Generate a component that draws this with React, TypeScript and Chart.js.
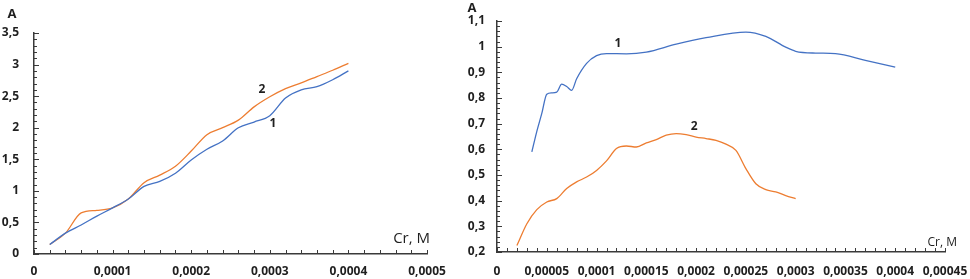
import React, { useEffect, useRef } from "react";
import { Chart, registerables } from "chart.js";

Chart.register(...registerables);

// ---------- Data ----------
const leftX = [0.00002, 0.00004, 0.00006, 0.00008, 0.0001, 0.00012, 0.00014, 0.00016, 0.00018, 0.0002, 0.00022, 0.00024, 0.00026, 0.00028, 0.0003, 0.00032, 0.00034, 0.00036, 0.00038, 0.0004];
const leftSeries1 = [0.15, 0.33, 0.46, 0.6, 0.73, 0.87, 1.07, 1.15, 1.28, 1.49, 1.66, 1.79, 2.0, 2.09, 2.19, 2.47, 2.6, 2.65, 2.76, 2.9];
const leftSeries2 = [0.15, 0.33, 0.65, 0.69, 0.73, 0.87, 1.13, 1.25, 1.39, 1.63, 1.89, 2.0, 2.12, 2.33, 2.49, 2.62, 2.71, 2.81, 2.91, 3.02];

const rightX1 = [0.000035, 0.00004, 0.000045, 0.00005, 0.000055, 0.00006, 0.000065, 0.00007, 0.000075, 0.00008, 0.00009, 0.0001, 0.00011, 0.00013, 0.00015, 0.00018, 0.00021, 0.00025, 0.00027, 0.00029, 0.0003, 0.00032, 0.00034, 0.00037, 0.0004];
const rightSeries1 = [0.59, 0.67, 0.74, 0.815, 0.82, 0.823, 0.854, 0.845, 0.83, 0.875, 0.935, 0.965, 0.973, 0.972, 0.979, 1.01, 1.035, 1.057, 1.04, 0.998, 0.982, 0.975, 0.973, 0.947, 0.92];
const rightX2 = [0.00002, 0.00003, 0.00004, 0.00005, 0.00006, 0.00007, 0.00008, 0.00009, 0.0001, 0.00011, 0.00012, 0.00013, 0.00014, 0.00015, 0.00016, 0.00017, 0.00018, 0.00019, 0.0002, 0.00021, 0.00022, 0.00023, 0.00024, 0.00025, 0.00026, 0.00027, 0.00028, 0.00029, 0.0003];
const rightSeries2 = [0.225, 0.31, 0.365, 0.395, 0.408, 0.447, 0.473, 0.492, 0.518, 0.555, 0.603, 0.613, 0.609, 0.625, 0.638, 0.655, 0.661, 0.657, 0.648, 0.642, 0.635, 0.62, 0.596, 0.525, 0.466, 0.443, 0.434, 0.42, 0.408];

// curve number labels: [x, y, text]
const leftCurveLabels: [number, number, string][] = [[0.00029, 2.6, "2"], [0.000304, 2.07, "1"]];
const rightCurveLabels: [number, number, string][] = [[0.0001215, 1.013, "1"], [0.000198, 0.69, "2"]];

const yTitle = "A";
const xTitle = "Cr, M";

// ---------- Styles ----------
const BLUE = "#4472C4";
const ORANGE = "#ED7D31";
const AXIS = "#3a3a3a";
const TEXT = "#1f1f1f";
const FONT = "'Open Sans', Arial, sans-serif";

const isMultiple = (v: number, step: number) => Math.abs(v / step - Math.round(v / step)) < 1e-6;
const fmt = (v: number) => String(Number(v.toFixed(8))).replace(".", ",");

function makePlugin(labels: [number, number, string][], xMajor: number, yMajor: number, titleCfg: any) {
  return {
    id: "decor",
    afterDraw(chart: any) {
      const ctx = chart.ctx;
      const { left, right, top, bottom } = chart.chartArea;
      const xs = chart.scales.x;
      const ys = chart.scales.y;
      ctx.save();
      ctx.strokeStyle = AXIS;
      ctx.lineWidth = 1;
      ctx.beginPath();
      xs.ticks.forEach((t: any) => {
        const px = Math.round(xs.getPixelForValue(t.value)) + 0.5;
        ctx.moveTo(px, bottom);
        ctx.lineTo(px, bottom - 4);
      });
      ys.ticks.forEach((t: any) => {
        const py = Math.round(ys.getPixelForValue(t.value)) + 0.5;
        const len = isMultiple(t.value, yMajor) ? 5 : 3;
        ctx.moveTo(left, py);
        ctx.lineTo(left + len, py);
      });
      ctx.stroke();

      ctx.fillStyle = TEXT;
      ctx.textAlign = "center";
      ctx.textBaseline = "middle";
      ctx.font = `bold 12px ${FONT}`;
      labels.forEach(([x, y, s]) => {
        ctx.fillText(s, xs.getPixelForValue(x), ys.getPixelForValue(y));
      });

      ctx.font = `bold 13px ${FONT}`;
      ctx.fillText(yTitle, left + titleCfg.ax, top + titleCfg.ay);
      ctx.textAlign = "right";
      ctx.font = `${titleCfg.xs}px ${FONT}`;
      ctx.fillText(xTitle, right + titleCfg.cx, bottom + titleCfg.cy);
      ctx.restore();
    },
  };
}

function buildConfig(opts: any) {
  const datasets = opts.series.map((s: any) => ({
    data: s.x.map((x: number, i: number) => ({ x, y: s.y[i] })),
    borderColor: s.color,
    borderWidth: 1.3,
    pointRadius: 0,
    fill: false,
    cubicInterpolationMode: "monotone",
    tension: 0.4,
  }));
  return {
    type: "line",
    data: { datasets },
    plugins: [makePlugin(opts.labels, opts.xMajor, opts.yMajor, opts.title)],
    options: {
      responsive: false,
      animation: false,
      events: [],
      layout: { padding: opts.padding },
      plugins: { legend: { display: false }, tooltip: { enabled: false } },
      scales: {
        x: {
          type: "linear",
          min: 0,
          max: opts.xMax,
          grid: { display: false, drawTicks: false, tickLength: 0 },
          border: { display: true, color: AXIS, width: 1.5 },
          afterFit: (s: any) => {
            s.height = opts.xHeight;
            s.paddingLeft = 0;
            s.paddingRight = 0;
          },
          ticks: {
            stepSize: opts.xStep,
            autoSkip: false,
            maxTicksLimit: 1000,
            maxRotation: 0,
            minRotation: 0,
            padding: opts.xPad,
            color: TEXT,
            font: { family: FONT, size: 12, weight: "bold" },
            callback: (v: number) => (isMultiple(v, opts.xMajor) ? fmt(v) : ""),
          },
        },
        y: {
          type: "linear",
          min: opts.yMin,
          max: opts.yMax,
          grid: { display: false, drawTicks: false, tickLength: 0 },
          border: { display: true, color: AXIS, width: 1.5 },
          afterFit: (s: any) => {
            s.width = opts.yWidth;
            s.paddingTop = 0;
            s.paddingBottom = 0;
          },
          ticks: {
            stepSize: opts.yStep,
            autoSkip: false,
            maxTicksLimit: 1000,
            padding: opts.yPad,
            color: TEXT,
            font: { family: FONT, size: 12, weight: "bold" },
            callback: (v: number) => (isMultiple(v, opts.yMajor) ? fmt(v) : ""),
          },
        },
      },
    },
  };
}

function ChartBox({ cfg, left, width }: { cfg: any; left: number; width: number }) {
  const ref = useRef<HTMLCanvasElement>(null);
  useEffect(() => {
    if (!ref.current) return;
    const chart = new Chart(ref.current, buildConfig(cfg) as any);
    return () => chart.destroy();
  }, []);
  return (
    <canvas
      ref={ref}
      width={width}
      height={279}
      style={{ position: "absolute", left, top: 0, width, height: 279, display: "block" }}
    />
  );
}

const leftCfg = {
  series: [
    { x: leftX, y: leftSeries1, color: BLUE },
    { x: leftX, y: leftSeries2, color: ORANGE },
  ],
  labels: leftCurveLabels,
  xMax: 0.0005,
  xStep: 0.00002,
  xMajor: 0.0001,
  yMin: 0,
  yMax: 3.5,
  yStep: 0.1,
  yMajor: 0.5,
  padding: { left: 0, right: 43, top: 33, bottom: 0 },
  yWidth: 34,
  xHeight: 25,
  xPad: 10,
  yPad: 15,
  title: { ax: -22, ay: -19, cx: 3, cy: -15, xs: 15 },
};

const rightCfg = {
  series: [
    { x: rightX1, y: rightSeries1, color: BLUE },
    { x: rightX2, y: rightSeries2, color: ORANGE },
  ],
  labels: rightCurveLabels,
  xMax: 0.00045,
  xStep: 0.00001,
  xMajor: 0.00005,
  yMin: 0.2,
  yMax: 1.1,
  yStep: 0.02,
  yMajor: 0.1,
  padding: { left: 0, right: 25, top: 21, bottom: 0 },
  yWidth: 47,
  xHeight: 27,
  xPad: 12,
  yPad: 12,
  title: { ax: -25, ay: -13, cx: 12, cy: -9, xs: 12 },
};

export default function App() {
  return (
    <div style={{ position: "absolute", left: 0, top: 0, width: 970, height: 279, background: "#fff", overflow: "hidden" }}>
      <ChartBox cfg={leftCfg} left={0} width={470} />
      <ChartBox cfg={rightCfg} left={450} width={520} />
    </div>
  );
}
